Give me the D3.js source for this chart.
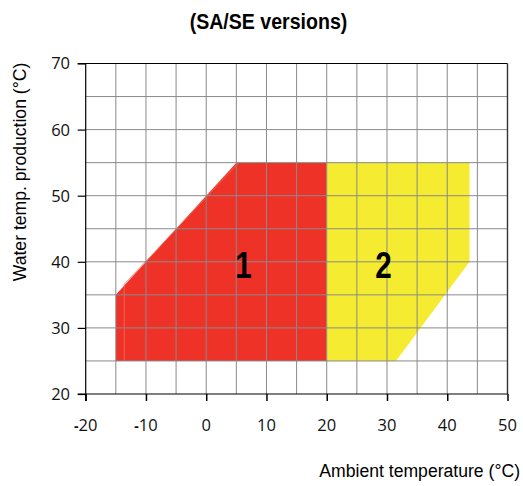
<!DOCTYPE html>
<html lang="en">
<head>
    <meta charset="UTF-8">
    <title>SA/SE versions</title>
    <style>
        body {
            margin: 0;
            padding: 0;
            background: #fff;
        }
        .title { font-family: 'Liberation Sans', Arial, sans-serif; font-weight: bold; font-size: 22px; }
        .axis-title { font-family: 'Liberation Sans', Arial, sans-serif; font-size: 17.6px; }
        .tick-label { font-family: 'Open Sans', sans-serif; font-size: 16.5px; fill: #111; }
        .zone-label { font-family: 'Liberation Sans', Arial, sans-serif; font-weight: bold; font-size: 37px; }
    </style>
    <script src="https://cdnjs.cloudflare.com/ajax/libs/d3/7.8.5/d3.min.js"></script>
</head>
<body>
<div id="chart"></div>
<script>
    // operating envelope, [ambient °C, water °C]
    const zone1 = [[-15, 25], [-15, 35], [5, 55], [20, 55], [20, 25]];
    const zone2 = [[20, 25], [20, 55], [43.7, 55], [43.7, 40], [31.5, 25]];
    // thin lighter seam along the left edge of zone 1
    const zone1Seam = [[-13.6, 25], [-13.6, 36.6], [5.4, 55]];
    const zoneLabels = [{ text: "1", x: 6.2, y: 39.6 }, { text: "2", x: 29.4, y: 39.6 }];

    const xTicks = [-20, -10, 0, 10, 20, 30, 40, 50];
    const yTicks = [20, 30, 40, 50, 60, 70];
    const xGrid = d3.range(-15, 50, 5);
    const yGrid = d3.range(25, 70, 5);

    const width = 523, height = 486;
    const x = d3.scaleLinear().domain([-20, 50]).range([85.7, 507.5]);
    const y = d3.scaleLinear().domain([20, 70]).range([394, 63.5]);

    const svg = d3.select("#chart").append("svg")
        .attr("width", width)
        .attr("height", height);

    // condensed bold, like the original artwork
    svg.append("text")
        .attr("class", "title")
        .attr("transform", "translate(268.5,29) scale(0.89,1)")
        .attr("text-anchor", "middle")
        .text("(SA/SE versions)");

    const line = d3.line().x(d => x(d[0])).y(d => y(d[1]));

    svg.append("path").attr("d", line(zone1) + "Z").attr("fill", "#ee3227");
    svg.append("path").attr("d", line(zone2) + "Z").attr("fill", "#f5eb30");
    svg.append("path").attr("d", line(zone1Seam))
        .attr("fill", "none").attr("stroke", "#f36b62").attr("stroke-width", 0.8);

    // grid on top of the zones
    svg.append("g").selectAll("line").data(xGrid).join("line")
        .attr("x1", d => x(d)).attr("x2", d => x(d))
        .attr("y1", y(70)).attr("y2", y(20))
        .attr("stroke", "#8a8a8a").attr("stroke-width", 1);
    svg.append("g").selectAll("line").data(yGrid).join("line")
        .attr("x1", x(-20)).attr("x2", x(50))
        .attr("y1", d => y(d)).attr("y2", d => y(d))
        .attr("stroke", "#8a8a8a").attr("stroke-width", 1);

    // frame
    svg.append("line").attr("x1", x(-20) - 8).attr("x2", x(50)).attr("y1", y(70)).attr("y2", y(70))
        .attr("stroke", "#000").attr("stroke-width", 1.2);
    svg.append("line").attr("x1", x(50)).attr("x2", x(50)).attr("y1", y(70)).attr("y2", y(20))
        .attr("stroke", "#333").attr("stroke-width", 1.4);

    // axes
    const xAxis = d3.axisBottom(x).tickValues(xTicks).tickSize(7).tickFormat("");
    const yAxis = d3.axisLeft(y).tickValues(yTicks).tickSize(8).tickFormat("");
    svg.append("g").attr("transform", `translate(0,${y(20)})`).call(xAxis)
        .call(g => g.select(".domain").attr("d", `M${x(-20) - 8},0H${x(50)}`).attr("stroke-width", 1.2))
        .call(g => g.selectAll(".tick line").attr("stroke-width", 1.5));
    svg.append("g").attr("transform", `translate(${x(-20)},0)`).call(yAxis)
        .call(g => g.select(".domain").attr("d", `M0,${y(70)}V${y(20) + 7}`).attr("stroke-width", 1.2))
        .call(g => g.selectAll(".tick line").attr("stroke-width", 1.2));

    // tick labels
    const xl = svg.append("g").selectAll("text").data(xTicks).join("text")
        .attr("class", "tick-label")
        .attr("x", d => x(d)).attr("y", 431)
        .attr("text-anchor", "middle");
    xl.filter(d => d < 0).append("tspan").attr("font-weight", "bold").attr("font-size", "14px").text("-");
    xl.append("tspan").text(d => Math.abs(d));

    svg.append("g").selectAll("text").data(yTicks).join("text")
        .attr("class", "tick-label")
        .attr("x", 70).attr("y", d => y(d))
        .attr("dy", "0.36em")
        .attr("text-anchor", "end")
        .text(d => d);

    // axis titles
    svg.append("text").attr("class", "axis-title")
        .attr("x", 520).attr("y", 477)
        .attr("text-anchor", "end")
        .text("Ambient temperature (°C)");
    svg.append("text").attr("class", "axis-title")
        .attr("transform", "translate(26,172) rotate(-90)")
        .attr("text-anchor", "middle")
        .text("Water temp. production (°C)");

    svg.append("g").selectAll("text").data(zoneLabels).join("text")
        .attr("class", "zone-label")
        .attr("transform", d => `translate(${x(d.x)},${y(d.y)}) scale(0.8,1)`)
        .attr("dy", "0.36em")
        .attr("text-anchor", "middle")
        .text(d => d.text);
</script>
</body>
</html>
